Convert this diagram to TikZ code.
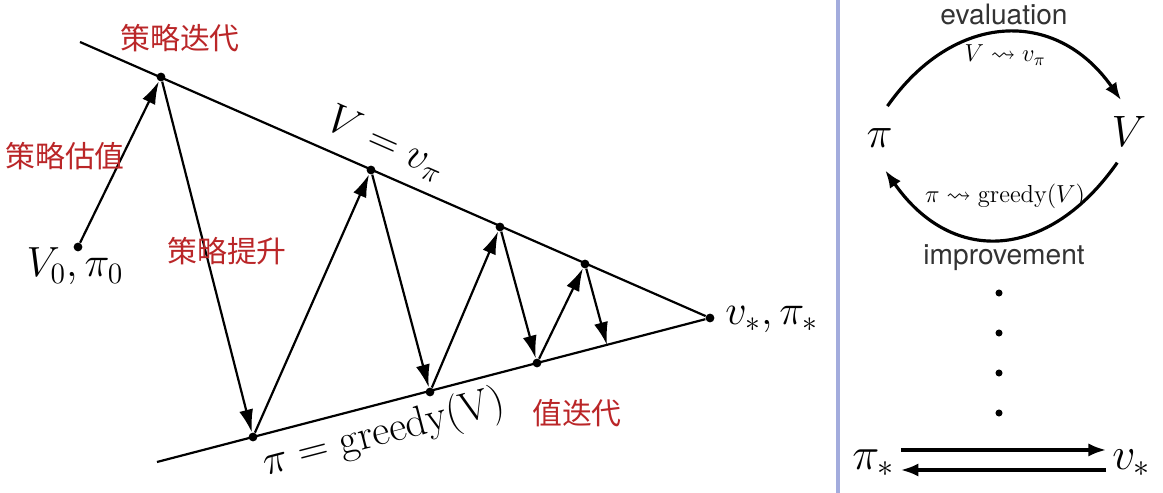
\RequirePackage{fix-cm}
\documentclass[tikz,border=0pt]{standalone}
\usepackage{amsmath,amssymb}
\usepackage{fontspec}
\newfontfamily\cjk{Noto Sans CJK SC}
\newfontfamily\heros{TeX Gyre Heros}
\usetikzlibrary{arrows.meta,positioning}
\definecolor{cnred}{HTML}{BA2628}
\definecolor{sepblue}{HTML}{A3ACDD}
\definecolor{txtgray}{HTML}{333333}
\tikzset{
  dot/.style={circle,fill,inner sep=0pt,minimum size=5pt},
  arr/.style={-{Latex[length=13pt,width=8pt]},line width=1.25pt},
  arrb/.style={-{Latex[length=10pt,width=7.5pt]},line width=1.8pt},
  cn/.style={text=cnred,font=\cjk\fontsize{17}{20}\selectfont},
  bigm/.style={font=\fontsize{24}{28}\selectfont},
  hugem/.style={font=\fontsize{25}{30}\selectfont},
  smallm/.style={font=\fontsize{14}{17}\selectfont},
  word/.style={text=txtgray,font=\heros\fontsize{16}{19}\selectfont},
  ring/.style={circle,minimum size=37pt,inner sep=0pt},
}

\begin{document}
\begin{tikzpicture}[x=0.02cm,y=0.02cm]
  \useasboundingbox (0,0) rectangle (1163,493);

  % points of the triangle
  \coordinate (ul) at (80,451);
  \coordinate (ll) at (157,31);
  \node[dot] (s) at (710,175) {};
  \node[dot] (a) at (78,246) {};
  \node[dot] (b) at (161,416) {};
  \node[dot] (c) at (253,56) {};
  \node[dot] (d) at (371,323) {};
  \node[dot] (e) at (430,101) {};
  \node[dot] (f) at (500,266) {};
  \node[dot] (g) at (537,130) {};
  \node[dot] (h) at (585,229) {};
  \coordinate (i) at (607,148);

  \draw[line width=1.25pt] (ul) -- (s) node[bigm,sloped,pos=0.47,above=3pt] (lv) {$V=v_\pi$};
  \draw[line width=1.25pt] (ll) -- (s) node[bigm,sloped,pos=0.40,below=1pt] (lg) {$\pi=\mathrm{greedy(V)}$};

  %zigzag
  \draw[arr] (a) -- (b);
  \draw[arr] (b) -- (c);
  \draw[arr] (c) -- (d);
  \draw[arr] (d) -- (e);
  \draw[arr] (e) -- (f);
  \draw[arr] (f) -- (g);
  \draw[arr] (g) -- (h);
  \draw[arr] (h) -- (i);

  \node[bigm,anchor=base] (la) at (75,216) {$V_0,\pi_0$};
  \node[bigm,anchor=base] (ls) at (772,168) {$v_*,\pi_*$};

  \node[cn] (t1) at (180,455) {策略迭代};
  \node[cn] (t2) at (65,337) {策略估值};
  \node[cn] (t3) at (227,242) {策略提升};
  \node[cn] (t4) at (577,80) {值迭代};

  % right panel
  \draw[sepblue,line width=2.3pt] (838,0) -- (838,493);

  \node[word,anchor=base] (ev) at (1004,468) {evaluation};
  \node[word,anchor=base] (im) at (1004,228) {improvement};

  \node[ring,hugem] (p) at (879.5,355) {$\pi$};
  \node[ring,hugem] (v) at (1129,361) {$V$};
  \draw[arrb] (p.76) to[out=55,in=125,looseness=1.25] (v.104);
  \draw[arrb] (v.-111) to[out=-125,in=-55,looseness=1.3] (p.-80);
  \node[smallm,anchor=base] (l1) at (1005,431) {$V\leadsto v_\pi$};
  \node[smallm,anchor=base] (l2) at (1005,290) {$\pi\leadsto\mathrm{greedy}(V)$};

  \foreach \y in {200,160,120,80}
    \node[dot,minimum size=4pt] at (999,\y) {};

  \node[font=\fontsize{26}{30}\selectfont,anchor=base] (ps) at (873.5,23) {$\pi_*$};
  \node[font=\fontsize{26}{30}\selectfont,anchor=base] (vs) at (1131.5,23) {$v_*$};
  \draw[arrb] ([yshift=11.4pt]ps.base east) -- ([yshift=11.4pt]vs.base west);
  \draw[arrb] (vs.base west) -- (ps.base east);
\end{tikzpicture}
\end{document}
